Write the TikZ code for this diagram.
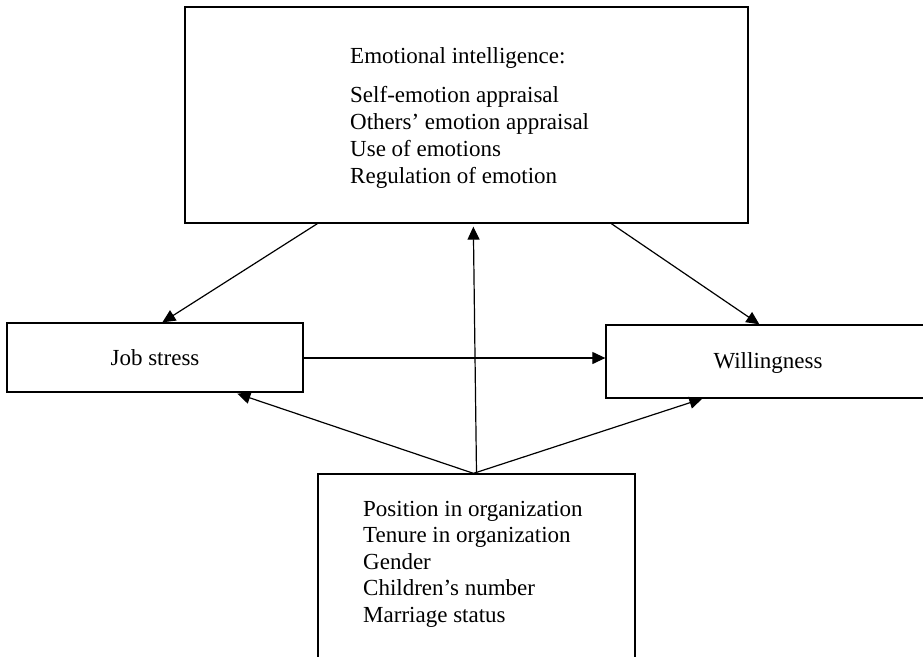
\documentclass[tikz,border=0pt]{standalone}
\usepackage{fontspec}
\setmainfont{Liberation Serif}
\usetikzlibrary{arrows.meta,calc}
\begin{document}
\begin{tikzpicture}[x=1pt,y=-1pt,
  box/.style={draw,line width=1.3pt,rectangle,inner sep=0pt},
  lbl/.style={inner sep=0pt,font=\fontsize{23}{27}\selectfont},
  conn/.style={line width=1.2pt,-{Triangle[length=13pt,width=12pt]}}]
\useasboundingbox (0,0) rectangle (923,656);
\clip (0,0) rectangle (923,656);
% boxes
\node[box,minimum width=563pt,minimum height=216pt] (ei) at (466.5,115) {};
\node[box,minimum width=296pt,minimum height=69pt] (js) at (155,357.5) {};
\node[box,minimum width=334pt,minimum height=73pt] (wl) at (773,361.5) {};
\node[box,minimum width=317pt,minimum height=196pt] (ctl) at (476.5,572) {};
% texts
\node[lbl,anchor=base west] (eit) at (350,63) {Emotional intelligence:};
\node[lbl,anchor=base west] (eil) at (350,102) {\begin{tabular}[t]{@{}l@{}}Self-emotion appraisal\\Others’ emotion appraisal\\Use of emotions\\Regulation of emotion\end{tabular}};
\node[lbl,anchor=base] (jst) at (155,365) {Job stress};
\node[lbl,anchor=base] (wlt) at (768,368) {Willingness};
\node[lbl,anchor=base west,font=\fontsize{23}{26.5}\selectfont] (ctlt) at (363,516) {\begin{tabular}[t]{@{}l@{}}Position in organization\\Tenure in organization\\Gender\\Children’s number\\Marriage status\end{tabular}};
% connectors
\draw[conn] ($(ei.south west)+(133,0)$) -- ($(js.north west)+(156,0)$);
\draw[conn] ($(ei.south west)+(427,0)$) -- ($(wl.north west)+(154,0)$);
\draw[conn] ($(js.east)+(0,0.5)$) -- ($(js.east -| wl.west)+(0,0.5)$);
\draw[conn] (ctl.north) -- ($(ei.south west)+(289,3)$);
\draw[conn] ($(ctl.north)+(-3,0)$) -- ($(js.south west)+(231,1)$);
\draw[conn] ($(ctl.north)+(-3,0)$) -- ($(wl.south west)+(97,0)$);
\end{tikzpicture}
\end{document}
